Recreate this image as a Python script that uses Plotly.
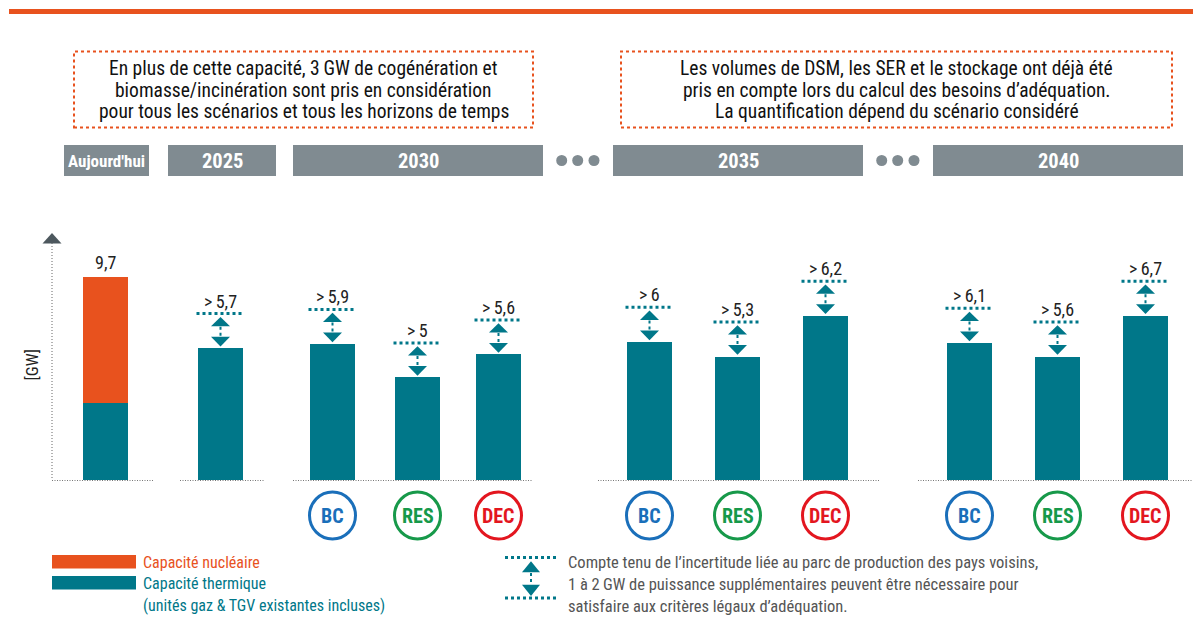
import plotly.graph_objects as go

# ---- data ----
columns = ["Aujourd'hui", "2025", "2030 BC", "2030 RES", "2030 DEC",
           "2035 BC", "2035 RES", "2035 DEC", "2040 BC", "2040 RES", "2040 DEC"]
thermal_gw = [3.7, 6.3, 6.5, 4.9, 6.0, 6.6, 5.9, 7.85, 6.55, 5.9, 7.85]
nuclear_gw = [6.0, 0, 0, 0, 0, 0, 0, 0, 0, 0, 0]
value_labels = ["9,7", ">\u20095,7", ">\u20095,9", ">\u20095", ">\u20095,6",
                ">\u20096", ">\u20095,3", ">\u20096,2", ">\u20096,1", ">\u20095,6", ">\u20096,7"]
scenarios = [None, None, "BC", "RES", "DEC", "BC", "RES", "DEC", "BC", "RES", "DEC"]
need_band_gw = 1.65  # dotted "1 a 2 GW" band drawn above the thermal bars
headers = ["Aujourd'hui", "2025", "2030", "2035", "2040"]

note_left = ["En plus de cette capacité, 3\u2009GW de cogénération et",
             "biomasse/incinération sont pris en considération",
             "pour tous les scénarios et tous les horizons de temps"]
note_right = ["Les volumes de DSM, les SER et le stockage ont déjà été",
              "pris en compte lors du calcul des besoins d’adéquation.",
              "La quantification dépend du scénario considéré"]
legend_left = ["Capacité nucléaire", "Capacité thermique",
               "(unités gaz & TGV existantes incluses)"]
legend_right = ["Compte tenu de l’incertitude liée au parc de production des pays voisins,",
                "1 à 2\u2009GW de puissance supplémentaires peuvent être nécessaire pour",
                "satisfaire aux critères légaux d’adéquation."]

# ---- layout constants (pixels) ----
W, H = 1193, 617
BASE_Y = 480
PX_PER_GW = 20.93
slot_x = [105.5, 220.5, 332.5, 417.5, 498.5, 649.5, 737.5, 825.5, 969.5, 1057.5, 1145.5]
BAR_W = 45
header_spans = [(64, 149), (168, 276), (293, 543), (613, 863), (933, 1183)]
dot_groups = [(561.7, 577.7, 594), (881.7, 897.7, 914)]
base_segments = [(52, 153), (180, 265), (293, 532), (598, 879), (918, 1193)]

TEAL = "#007789"
ORANGE = "#e8521e"
GREY = "#808b91"
SCEN_COL = {"BC": "#1a6fba", "RES": "#17994a", "DEC": "#e3161f"}
FONT = "Liberation Sans Narrow, Roboto Condensed, Roboto, sans-serif"


def yv(py):
    # pixel row -> value on the GW axis
    return (BASE_Y - py) / PX_PER_GW


def py_of(gw):
    return BASE_Y - gw * PX_PER_GW


shapes = []
annotations = []


def hline(x0, x1, py, color, width, dash):
    shapes.append(dict(type="line", xref="x", yref="y", x0=x0, x1=x1, y0=yv(py), y1=yv(py),
                       line=dict(color=color, width=width, dash=dash)))


def vline(px, py0, py1, color, width, dash):
    shapes.append(dict(type="line", xref="x", yref="y", x0=px, x1=px, y0=yv(py0), y1=yv(py1),
                       line=dict(color=color, width=width, dash=dash)))


def tri(cx, apex, base, half, color):
    path = "M {a},{b} L {c},{b} L {d},{e} Z".format(
        a=cx - half, b=yv(base), c=cx + half, d=cx, e=yv(apex))
    shapes.append(dict(type="path", xref="x", yref="y", path=path,
                       fillcolor=color, line=dict(width=0)))


def text(x, py, s, size, color, bold=False, anchor="center", angle=0):
    if bold:
        s = "<b>" + s + "</b>"
    annotations.append(dict(x=x, y=yv(py), xref="x", yref="y", text=s, showarrow=False,
                            xanchor=anchor, yanchor="middle", textangle=angle, borderpad=0,
                            font=dict(family=FONT, size=size, color=color)))


def need_marker(cx, top_py, bar_py, half_line, half_tri):
    span = bar_py - top_py
    hline(cx - half_line, cx + half_line, top_py, TEAL, 3, "dot")
    tri(cx, top_py + span * 0.095, top_py + span * 0.365, half_tri, TEAL)
    vline(cx, top_py + span * 0.38, top_py + span * 0.67, TEAL, 2, "dot")
    tri(cx, bar_py - span * 0.05, bar_py - span * 0.33, half_tri, TEAL)


# top rule
hline(9, W, 11.5, ORANGE, 5, "solid")

# notes
for (x0, x1), lines in [((74, 533), note_left), ((621, 1172), note_right)]:
    shapes.append(dict(type="rect", xref="x", yref="y", x0=x0, x1=x1, y0=yv(127.5), y1=yv(51.5),
                       line=dict(color=ORANGE, width=2, dash="dot")))
    for i, ln in enumerate(lines):
        text((x0 + x1) / 2, 68.5 + 21.7 * i, ln, 19.5, "#111")

# header bands
for (x0, x1), h in zip(header_spans, headers):
    shapes.append(dict(type="rect", xref="x", yref="y", x0=x0, x1=x1, y0=yv(176), y1=yv(145),
                       fillcolor=GREY, line=dict(width=0)))
    text((x0 + x1) / 2, 161, h, 20.5 if h[0].isdigit() else 17, "white", bold=True)
for grp in dot_groups:
    for dx in grp:
        shapes.append(dict(type="circle", xref="x", yref="y", x0=dx - 5.5, x1=dx + 5.5,
                           y0=yv(166), y1=yv(155), fillcolor=GREY, line=dict(width=0)))

# y axis
vline(52, 243, BASE_Y, "#666", 1, "1px,2px")
tri(52, 233, 243.5, 9.5, "#4d585e")
text(31.5, 365, "[GW]", 17, "#222", angle=-90)
for x0, x1 in base_segments:
    hline(x0, x1, BASE_Y + 0.5, "#777", 1.2, "1px,1.5px")

# bars
fig = go.Figure()
fig.add_trace(go.Bar(x=slot_x, y=thermal_gw, width=BAR_W, marker=dict(color=TEAL, line=dict(width=0)),
                     name="Capacité thermique", hoverinfo="skip"))
fig.add_trace(go.Bar(x=slot_x, y=nuclear_gw, width=BAR_W, marker=dict(color=ORANGE, line=dict(width=0)),
                     name="Capacité nucléaire", hoverinfo="skip"))

for i, cx in enumerate(slot_x):
    top = thermal_gw[i] + nuclear_gw[i]
    if nuclear_gw[i] > 0:
        text(cx, py_of(top) - 14, value_labels[i], 18, "#222")
        continue
    line_py = py_of(thermal_gw[i] + need_band_gw)
    need_marker(cx, line_py, py_of(thermal_gw[i]), 24, 9.5)
    text(cx, line_py - 12.5, value_labels[i], 18, "#222")
    sc = scenarios[i]
    if sc:
        shapes.append(dict(type="circle", xref="x", yref="y", x0=cx - 23, x1=cx + 23,
                           y0=yv(539), y1=yv(492), line=dict(color=SCEN_COL[sc], width=3)))
        text(cx, 516, sc, 20, SCEN_COL[sc], bold=True)

# legend
shapes.append(dict(type="rect", xref="x", yref="y", x0=52, x1=136, y0=yv(568.5), y1=yv(555),
                   fillcolor=ORANGE, line=dict(width=0)))
shapes.append(dict(type="rect", xref="x", yref="y", x0=52, x1=136, y0=yv(589.5), y1=yv(576),
                   fillcolor=TEAL, line=dict(width=0)))
for i, (ln, col) in enumerate(zip(legend_left, [ORANGE, TEAL, TEAL])):
    text(142, 562 + 21.5 * i, ln, 16, col, anchor="left")

need_marker(531, 557.5, 598, 26, 9)
hline(505, 557, 598, TEAL, 3, "dot")
for i, ln in enumerate(legend_right):
    text(567, 562 + 22 * i, ln, 16.5, "#555", anchor="left")

fig.update_layout(
    barmode="stack",
    width=W,
    height=H,
    margin=dict(l=0, r=0, t=0, b=0),
    paper_bgcolor="white",
    plot_bgcolor="white",
    showlegend=False,
    shapes=shapes,
    annotations=annotations,
    bargap=0,
)
fig.update_xaxes(range=[0, W], visible=False, fixedrange=True)
fig.update_yaxes(range=[yv(H), yv(0)], visible=False, fixedrange=True)

fig.write_html("out.html", config={"displayModeBar": False},
               post_script="document.body.style.margin='0';document.body.style.overflow='hidden';")
